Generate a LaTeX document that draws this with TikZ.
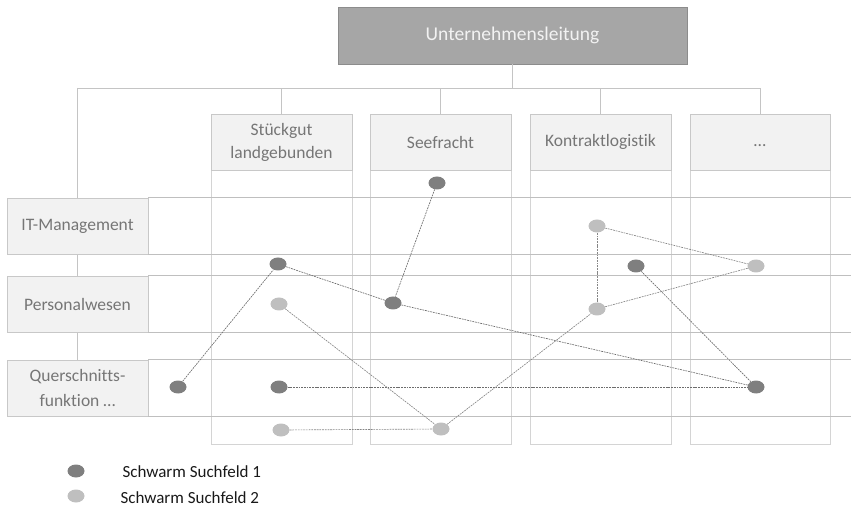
\documentclass[tikz,border=0pt]{standalone}
\usepackage{fontspec}
\setmainfont{Carlito}[Ligatures=NoCommon]
\usetikzlibrary{shapes.geometric}
\definecolor{boxfill}{HTML}{F2F2F2}
\definecolor{boxline}{HTML}{C8C8C8}
\definecolor{gridline}{HTML}{BFBFBF}
\definecolor{colline}{HTML}{D4D4D4}
\definecolor{labeltext}{HTML}{767676}
\definecolor{topfill}{HTML}{A6A6A6}
\definecolor{topline}{HTML}{8C8C8C}
\definecolor{darkdot}{HTML}{7F7F7F}
\definecolor{lightdot}{HTML}{BFBFBF}
\definecolor{orgline}{HTML}{C4C4C4}
\begin{document}
\begin{tikzpicture}[x={(1pt,0)},y={(0,-1pt)},
  hdrbox/.style={draw=boxline, fill=boxfill, line width=0.8pt, minimum width=141pt, minimum height=56pt, inner sep=0pt, align=center, text=labeltext, font=\fontsize{17.5}{23}\selectfont},
  rowbox/.style={hdrbox, font=\fontsize{17.5}{25}\selectfont},
  topbox/.style={draw=topline, fill=topfill, line width=0.8pt, minimum width=349pt, minimum height=57pt, inner sep=0pt, text=white!95!black, font=\fontsize{19.5}{22}\selectfont},
  org/.style={draw=orgline, line width=0.9pt},
  grid/.style={draw=gridline, line width=0.8pt},
  colbody/.style={draw=colline, line width=0.9pt},
  dotA/.style={ellipse, fill=darkdot, minimum width=17pt, minimum height=13pt, inner sep=0pt},
  dotB/.style={ellipse, fill=lightdot, minimum width=17pt, minimum height=13pt, inner sep=0pt},
  linkA/.style={draw=darkdot!85!black, line width=0.65pt, dash pattern=on 1.8pt off 0.9pt},
  linkB/.style={draw=gray!95, line width=0.65pt, dash pattern=on 1.8pt off 0.9pt},
  legtext/.style={anchor=west, text=black!90, font=\fontsize{17}{20}\selectfont}
]
\useasboundingbox (0,0) rectangle (851,510);
\coordinate (edge) at (851,0);

% org chart lines (behind boxes)
\coordinate (busL) at (77,88);
\coordinate (busR) at (760,88);
\coordinate (rowbus) at (77,360);
\draw[org] (busL) -- (busR);
\draw[org] (busL) -- (rowbus);

% column bodies
\draw[colbody] (211,170) rectangle (352,444);
\draw[colbody] (370,170) rectangle (511,444);
\draw[colbody] (530,170) rectangle (671,444);
\draw[colbody] (690,170) rectangle (830,444);

% top box
\node[topbox] (top) at (512.5,35.5) {Unternehmensleitung};
\draw[org] (top.south) -- (top.south |- busL);

% column headers
\node[hdrbox] (c1) at (281.5,142) {Stückgut\\landgebunden};
\node[hdrbox] (c2) at (440.5,142) {Seefracht};
\node[hdrbox] (c3) at (600.5,142) {Kontraktlogistik};
\node[hdrbox, minimum width=140pt] (c4) at (760,142) {};
\node[anchor=base, inner sep=0pt, text=labeltext, font=\fontsize{17.5}{23}\selectfont] (c4t) at (760,147) {…};
\foreach \c in {c1,c2,c3,c4} \draw[org] (\c.north) -- (\c.north |- busL);

% row boxes
\node[rowbox] (r1) at (77.5,226) {IT-Management};
\node[rowbox] (r2) at (77.5,304) {Personalwesen};
\node[rowbox] (r3) at (77.5,388) {Querschnitts-\\funktion …};
\foreach \r in {r1,r2,r3} {
  \draw[grid] (\r.north east) -- (\r.north east -| edge);
  \draw[grid] (\r.south east) -- (\r.south east -| edge);
}

% dots
\node[dotA] (d1) at (437,183) {};
\node[dotA] (d2) at (278,264) {};
\node[dotA] (d3) at (393,303) {};
\node[dotA] (d4) at (178,387) {};
\node[dotA] (d5) at (279,387) {};
\node[dotA] (d6) at (636,266) {};
\node[dotA] (d7) at (756,387) {};
\node[dotB] (l1) at (597,226) {};
\node[dotB] (l2) at (279,304) {};
\node[dotB] (l3) at (281,430) {};
\node[dotB] (l4) at (441,429) {};
\node[dotB] (l5) at (597,309) {};
\node[dotB] (l6) at (756,266) {};

% links
\draw[linkA] (d1) -- (d3);
\draw[linkA] (d4) -- (d2);
\draw[linkA] (d2) -- (d3);
\draw[linkA] (d3) -- (d7);
\draw[linkA] (d5) -- (d7);
\draw[linkA] (d6) -- (d7);
\draw[linkB] (l2) -- (l4);
\draw[linkB] (l3) -- (l4);
\draw[linkB] (l4) -- (l5);
\draw[linkB] (l5) -- (l1);
\draw[linkB] (l1) -- (l6);
\draw[linkB] (l5) -- (l6);

% legend
\node[dotA] (k1) at (76,471) {};
\node[dotB] (k2) at (76,496) {};
\node[legtext] (t1) at (119,472) {Schwarm Suchfeld 1};
\node[legtext] (t2) at (117,498) {Schwarm Suchfeld 2};
\end{tikzpicture}
\end{document}
